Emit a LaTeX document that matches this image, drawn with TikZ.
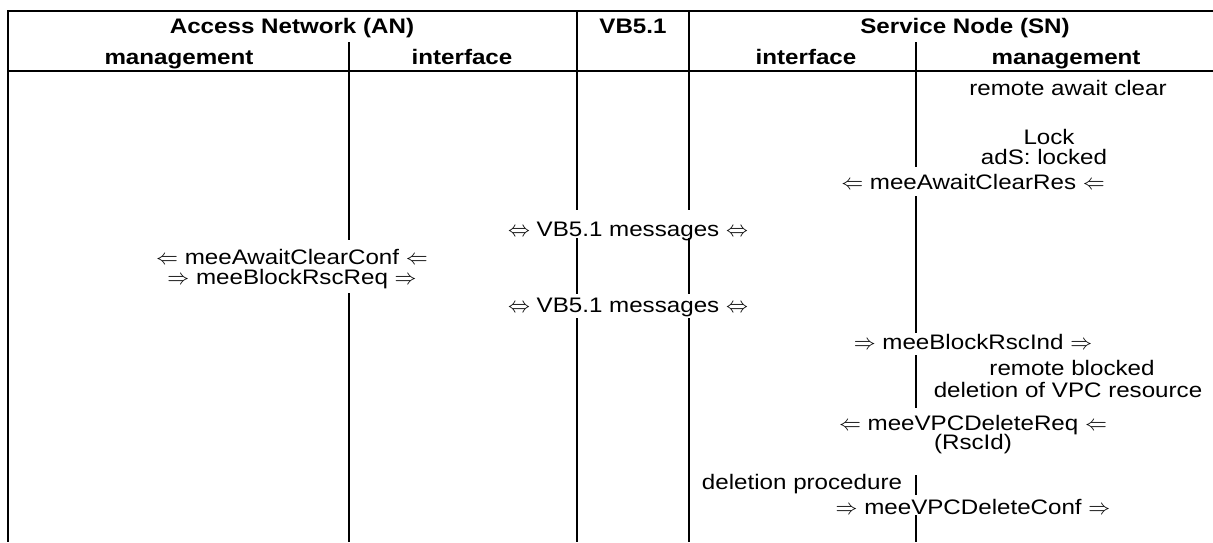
\documentclass[tikz,border=0pt]{standalone}
\usepackage{fontspec}
\setmainfont[FakeStretch=1.15]{Liberation Sans}
\usetikzlibrary{positioning}

\begin{document}
\begin{tikzpicture}[
    x=0.5pt, y=-0.5pt,
    rule/.style={line width=1pt},
    cell/.style={anchor=base, inner sep=0pt, font=\fontsize{10.5}{12}\selectfont},
    head/.style={cell, font=\fontsize{10.5}{12}\selectfont\bfseries}
]
\useasboundingbox (0,0) rectangle (1213,542);

% table frame
\draw[rule] (1213,11) -- (8,11) -- (8,542);
\draw[rule] (8,71) -- (1213,71);
% column rules, broken where a message row crosses
\foreach \x/\a/\b in {349/42/240, 349/293/542,
                      577/11/210, 577/238/294, 577/318/542,
                      689/11/210, 689/238/294, 689/318/542,
                      916/42/167, 916/196/333, 916/355/408, 916/475/495, 916/515/542}
  \draw[rule] (\x,\a) -- (\x,\b);

% header
\node[head] (an) at (292,33) {Access Network (AN)};
\node[head] (vb) at (633,33) {VB5.1};
\node[head] (sn) at (965,33) {Service Node (SN)};
\node[head] (anmgmt) at (179,64) {management};
\node[head] (anif) at (462,64) {interface};
\node[head] (snif) at (806,64) {interface};
\node[head] (snmgmt) at (1066,64) {management};

% rows
\node[cell] (await) at (1068,95) {remote await clear};
\node[cell] (lock) at (1049,144) {Lock};
\node[cell] (locked) at (1044,164) {adS: locked};
\node[cell] (clearres) at (973,189) {$\Leftarrow$ meeAwaitClearRes $\Leftarrow$};
\node[cell] (vbmsg1) at (628,236) {$\Leftrightarrow$ VB5.1 messages $\Leftrightarrow$};
\node[cell] (clearconf) at (292,264) {$\Leftarrow$ meeAwaitClearConf $\Leftarrow$};
\node[cell] (blockreq) at (292,284) {$\Rightarrow$ meeBlockRscReq $\Rightarrow$};
\node[cell] (vbmsg2) at (628,312) {$\Leftrightarrow$ VB5.1 messages $\Leftrightarrow$};
\node[cell] (blockind) at (973,349) {$\Rightarrow$ meeBlockRscInd $\Rightarrow$};
\node[cell] (blocked) at (1072,375) {remote blocked};
\node[cell] (delvpc) at (1068,397) {deletion of VPC resource};
\node[cell] (delreq) at (973,430) {$\Leftarrow$ meeVPCDeleteReq $\Leftarrow$};
\node[cell] (rscid) at (973,449) {(RscId)};
\node[cell] (delproc) at (802,489) {deletion procedure};
\node[cell] (delconf) at (973,514) {$\Rightarrow$ meeVPCDeleteConf $\Rightarrow$};
\end{tikzpicture}
\end{document}
